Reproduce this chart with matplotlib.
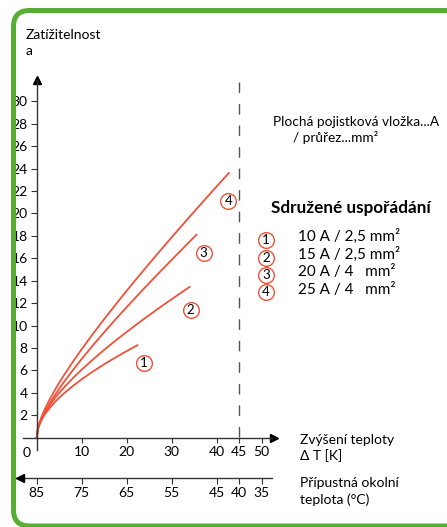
import numpy as np
import matplotlib
matplotlib.use('Agg')
import matplotlib.pyplot as plt
from matplotlib.patches import FancyBboxPatch
from matplotlib.lines import Line2D

plt.rcParams['font.family'] = ['Lato', 'DejaVu Sans']
plt.rcParams['savefig.bbox'] = 'standard'

# curves: temperature rise dT [K] vs load [A]
dt_1 = [0, 0.25, 0.5, 1, 1.5, 2, 3, 4, 5, 6, 8, 10, 12.5, 15, 17.5, 20, 22.4]
load_1 = [0, 0.74, 1.06, 1.51, 1.87, 2.18, 2.70, 3.15, 3.56, 3.93, 4.60, 5.21,
          5.90, 6.55, 7.15, 7.72, 8.25]
dt_2 = [0, 0.25, 0.5, 1, 1.5, 2, 3, 4, 5, 6, 8, 10, 12.5, 15, 17.5, 20, 22.5,
        25, 27.5, 30, 32.5, 34]
load_2 = [0, 0.77, 1.10, 1.60, 2.00, 2.35, 2.96, 3.50, 3.99, 4.44, 5.29, 6.07,
          6.97, 7.83, 8.65, 9.43, 10.19, 10.93, 11.65, 12.35, 13.04, 13.45]
dt_3 = [0, 0.25, 0.5, 1, 1.5, 2, 3, 4, 5, 6, 8, 10, 12.5, 15, 17.5, 20, 22.5,
        25, 27.5, 30, 32.5, 35.5]
load_3 = [0, 0.72, 1.06, 1.59, 2.03, 2.42, 3.12, 3.76, 4.36, 4.93, 6.00, 7.02,
          8.24, 9.40, 10.54, 11.64, 12.72, 13.79, 14.83, 15.86, 16.88, 18.10]
dt_4 = [0, 0.25, 0.5, 1, 1.5, 2, 3, 4, 5, 6, 8, 10, 12.5, 15, 17.5, 20, 22.5,
        25, 27.5, 30, 32.5, 35, 37.5, 40, 42.7]
load_4 = [0, 0.81, 1.19, 1.78, 2.27, 2.71, 3.50, 4.22, 4.89, 5.53, 6.74, 7.89,
          9.26, 10.57, 11.85, 13.10, 14.32, 15.52, 16.70, 17.87, 19.02, 20.16,
          21.29, 22.41, 23.60]
curves = [(dt_1, load_1), (dt_2, load_2), (dt_3, load_3), (dt_4, load_4)]

# circled number positions next to the curve ends
label_dt = [23.8, 34.2, 37.1, 42.6]
label_load = [6.7, 11.4, 16.5, 21.1]

legend_items = ['10 A / 2,5 mm²', '15 A / 2,5 mm²', '20 A / 4   mm²', '25 A / 4   mm²']

x_ticks = [10, 20, 30, 40, 45, 50]
y_ticks = list(range(2, 31, 2))
temp_ticks = [85, 75, 65, 55, 45, 40, 35]
dt_limit = 45

W, H = 447, 527
RED = '#ef5238'
AXC = '#333333'
GREEN = '#56ae33'


def fx(px):
    return px / W


def fy(py):
    return 1 - py / H


def circled(x, y, n, transform, ax_or_fig):
    m = Line2D([x], [y], marker='o', ms=11.3, mfc='white', mec=RED, mew=1.0,
               transform=transform, clip_on=False, zorder=5)
    ax_or_fig.add_artist(m)
    ax_or_fig.text(x, y, str(n), transform=transform, ha='center', va='center',
                   fontsize=9.5, color='black', zorder=6)


fig = plt.figure(figsize=(W / 100, H / 100), dpi=100)
ax = fig.add_axes([fx(16), fy(450), 256 / W, 370 / H])
ax.set_xlim(-4.6, 52.3)
ax.set_ylim(-1.1, 31.9)

for s in ['top', 'right']:
    ax.spines[s].set_visible(False)
ax.spines['left'].set_position(('data', 0))
ax.spines['bottom'].set_position(('data', 0))
ax.spines['bottom'].set_bounds(-3.1, 52.3)
for s in ['left', 'bottom']:
    ax.spines[s].set_color(AXC)
    ax.spines[s].set_linewidth(1.0)

ax.set_xticks(x_ticks)
ax.set_yticks(y_ticks)
ax.tick_params(axis='x', direction='out', length=3.6, width=0.8, color=AXC,
               pad=2.4, labelsize=10)
ax.tick_params(axis='y', direction='out', length=4.3, width=0.8, color=AXC,
               pad=2.2, labelsize=10)
ax.text(-2.2, -1.4, '0', ha='center', va='center', fontsize=10)

# arrow heads
ax.plot([0], [31.9], marker='^', ms=6, color='black', clip_on=False)
ax.plot([52.8], [0], marker='>', ms=6, color='black', clip_on=False)

# second axis: permissible ambient temperature
loc = (-3.63 + 1.1) / 33.0
sec = ax.secondary_xaxis(loc, functions=(lambda x: 85 - x, lambda t: 85 - t))
sec.set_xticks(temp_ticks)
sec.spines['bottom'].set_color(AXC)
sec.spines['bottom'].set_linewidth(1.0)
sec.tick_params(direction='out', length=4.6, width=0.8, color=AXC, pad=1.8,
                labelsize=10)
ax.plot([-3.8], [-3.63], marker='<', ms=6, color='black', clip_on=False)

# dashed limit line
ax.plot([dt_limit, dt_limit], [31.7, 0], color='#555555', lw=1.0,
        dashes=(7.6, 7.9))

for (xs, ys) in curves:
    ax.plot(xs, ys, color=RED, lw=1.3, solid_joinstyle='round')

for i, (lx, ly) in enumerate(zip(label_dt, label_load)):
    circled(lx, ly, i + 1, ax.transData, ax)

# texts
fs = 10
fig.text(fx(26), fy(35), 'Zatížitelnost', ha='left', va='center', fontsize=fs)
fig.text(fx(26), fy(51), 'a', ha='left', va='center', fontsize=fs)
fig.text(fx(300), fy(440), 'Zvýšení teploty', ha='left', va='center', fontsize=fs)
fig.text(fx(300), fy(456), 'Δ T [K]', ha='left', va='center', fontsize=fs)
fig.text(fx(300), fy(483), 'Přípustná okolní', ha='left', va='center', fontsize=fs)
fig.text(fx(300), fy(500), 'teplota (°C)', ha='left', va='center', fontsize=fs)

fig.text(fx(273), fy(122), 'Plochá pojistková vložka...A', ha='left', va='center',
         fontsize=9.8)
fig.text(fx(293), fy(137), '/ průřez...mm²', ha='left', va='center', fontsize=9.8)
fig.text(fx(271), fy(208), 'Sdružené uspořádání', ha='left', va='center',
         fontsize=12.3, fontweight='bold')

row_text_y = [236, 254, 272, 290]
row_circle_y = [240, 258, 275, 292]
for i, item in enumerate(legend_items):
    fig.text(fx(298), fy(row_text_y[i]), item, ha='left', va='center', fontsize=11)
    circled(fx(266), fy(row_circle_y[i]), i + 1, fig.transFigure, fig)

# green rounded frame (inches, so the corner stays round); right side runs off the page
frame = FancyBboxPatch((0.135, 0.01), 4.7, 5.155,
                       boxstyle='round,pad=0,rounding_size=0.16',
                       fill=False, ec=GREEN, lw=3.6,
                       transform=fig.dpi_scale_trans, zorder=20)
fig.add_artist(frame)

fig.savefig('out.png', dpi=100)
